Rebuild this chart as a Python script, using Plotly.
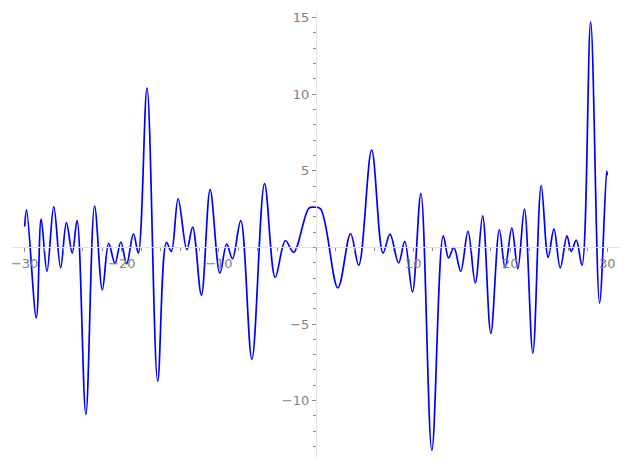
import plotly.graph_objects as go

# values (local extrema of the curve)
x_vals = [-30.0, -29.8, -28.8, -28.3, -27.7, -27.0, -26.3, -25.7, -25.1, -24.6,
          -23.7, -22.8, -22.0, -21.35, -20.7, -20.1, -19.5, -18.8, -18.3, -17.4,
          -16.3, -15.4, -14.9, -14.2, -13.3, -12.7, -11.8, -10.9, -9.9, -9.2,
          -8.6, -7.75, -6.6, -5.3, -4.2, -3.15, -2.3, -0.74, -0.2, 0.47,
          2.25, 3.56, 4.4, 5.73, 6.9, 7.62, 8.5, 9.14, 9.93, 10.8,
          11.93, 13.1, 13.65, 14.2, 14.9, 15.65, 16.4, 17.16, 18.0, 18.88,
          19.47, 20.16, 20.78, 21.46, 22.33, 23.19, 23.9, 24.5, 25.15, 25.84,
          26.28, 26.8, 27.39, 28.28, 29.2, 29.93, 30.0]
y_vals = [1.36, 2.45, -4.6, 1.84, -1.56, 2.66, -1.34, 1.62, -0.37, 1.75,
          -10.9, 2.7, -2.77, 0.26, -1.04, 0.35, -1.08, 0.89, -0.37, 10.39,
          -8.74, 0.32, -0.26, 3.16, -0.15, 1.32, -3.12, 3.77, -1.69, 0.21,
          -0.74, 1.75, -7.3, 4.16, -1.95, 0.45, -0.32, 2.55, 2.62, 2.51,
          -2.64, 0.89, -1.17, 6.34, -0.37, 0.87, -1.02, 0.39, -2.9, 3.53,
          -13.25, 0.76, -0.69, 0.0, -1.56, 1.04, -2.32, 2.06, -5.6, 1.15,
          -1.34, 1.25, -1.39, 2.49, -6.9, 4.03, -0.65, 1.21, -1.34, 0.76,
          -0.26, 0.47, -1.17, 14.72, -3.64, 4.98, 4.7]

x_ticks = [-30, -20, -10, 10, 20, 30]
y_ticks = [-10, -5, 5, 10, 15]

x_range = [-31.2, 31.2]
y_range = [-13.81, 15.36]

fig = go.Figure()
fig.add_trace(go.Scatter(x=x_vals, y=y_vals, mode="lines",
                         line=dict(color="#0000ff", width=1.7, shape="spline"),
                         hoverinfo="skip"))

axis_common = dict(showgrid=False, zeroline=False, showline=True,
                   linecolor="#e3e3e3", linewidth=1.2,
                   ticks="outside", ticklen=4, tickwidth=1, tickcolor="#8c8c8c",
                   tickfont=dict(family="DejaVu Sans", size=13, color="#808080"),
                   anchor="free")

fig.update_layout(
    width=619, height=461,
    margin=dict(l=5, r=8, t=2, b=10),
    plot_bgcolor="white", paper_bgcolor="white",
    showlegend=False,
    xaxis=dict(range=x_range, tickmode="array", tickvals=x_ticks,
               position=(0 - y_range[0]) / (y_range[1] - y_range[0]),
               minor=dict(dtick=2, tick0=0, ticks="outside", ticklen=3,
                          tickcolor="#8c8c8c", showgrid=False),
               **axis_common),
    yaxis=dict(range=y_range, tickmode="array", tickvals=y_ticks,
               position=(0 - x_range[0]) / (x_range[1] - x_range[0]),
               minor=dict(dtick=1, tick0=0, ticks="outside", ticklen=3,
                          tickcolor="#8c8c8c", showgrid=False),
               **axis_common),
)

fig.write_html("out.html")
